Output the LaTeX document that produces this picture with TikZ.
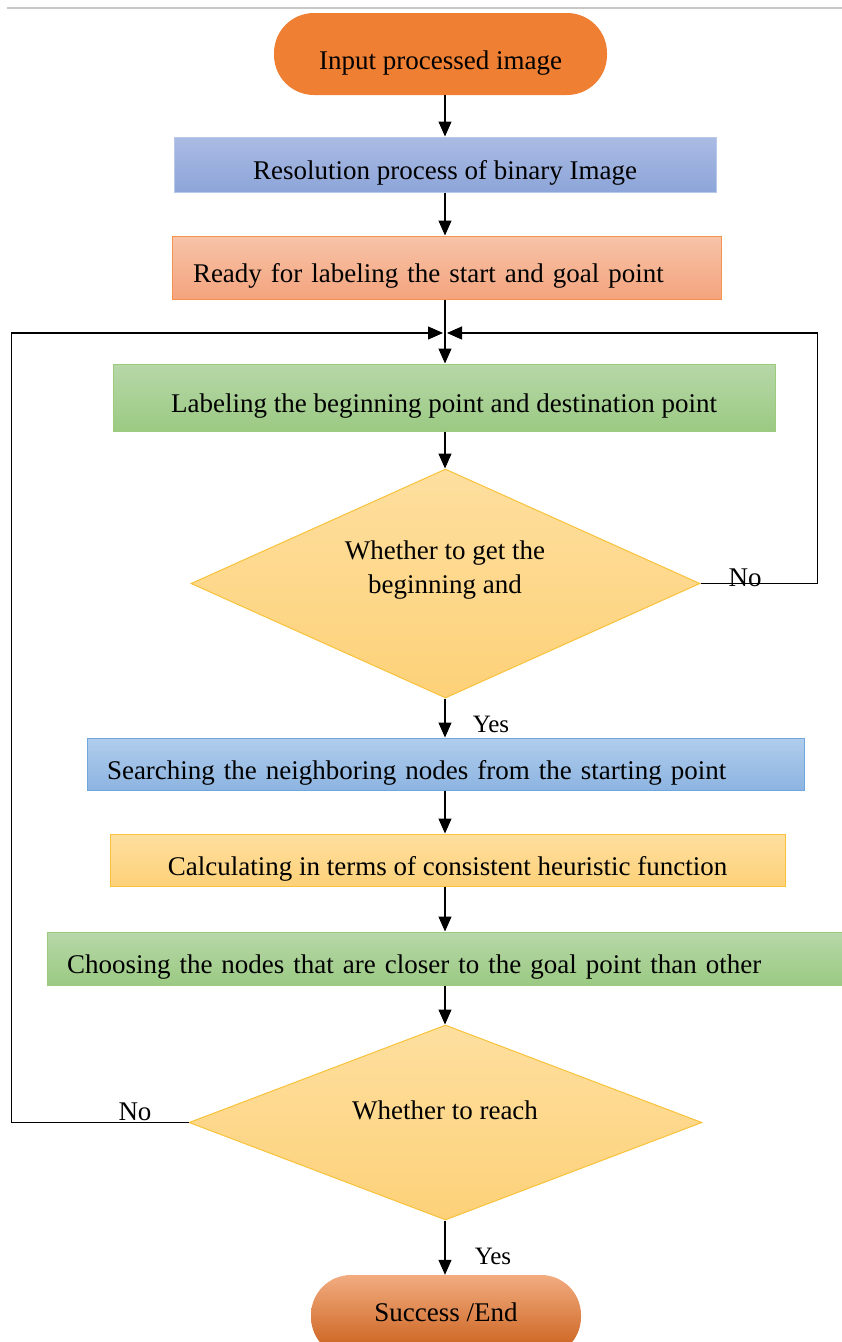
\documentclass[tikz,border=0pt]{standalone}
\usepackage{fontspec}
\setmainfont{Liberation Serif}
\usetikzlibrary{shapes.geometric,arrows.meta}
\definecolor{startor}{HTML}{EE7F33}
\definecolor{resA}{HTML}{ABBBE3}
\definecolor{resB}{HTML}{8DA5D9}
\definecolor{resE}{HTML}{B8C8EA}
\definecolor{rdyA}{HTML}{F7C3A8}
\definecolor{rdyB}{HTML}{F4A47D}
\definecolor{rdyE}{HTML}{F3934F}
\definecolor{grnA}{HTML}{B7D7A8}
\definecolor{grnB}{HTML}{9BCA83}
\definecolor{grnE}{HTML}{9CCB7E}
\definecolor{ylwA}{HTML}{FEDF9F}
\definecolor{ylwB}{HTML}{FDD179}
\definecolor{ylwE}{HTML}{F8C23A}
\definecolor{bluA}{HTML}{B0CDEC}
\definecolor{bluB}{HTML}{8DB4E1}
\definecolor{bluE}{HTML}{6FA6DC}
\definecolor{endA}{HTML}{F2AC80}
\definecolor{endM}{HTML}{E97B35}
\definecolor{endB}{HTML}{C85C16}
\begin{document}
\begin{tikzpicture}[x=1pt,y=-1pt,
  every node/.style={font=\fontsize{27}{34}\selectfont},
  box/.style={rectangle, inner sep=0pt, line width=1pt, text height=30pt, text depth=0pt},
  term/.style={rectangle, rounded corners=40pt, inner sep=0pt, text height=30pt, text depth=0pt},
  dia/.style={diamond, inner sep=0pt, line width=1pt, draw=ylwE, top color=ylwA, bottom color=ylwB},
  arr/.style={-{Triangle[length=15pt,width=13pt]}, line width=1.1pt},
  ln/.style={line width=1.1pt},
  lab/.style={anchor=base, inner sep=0pt}]
\useasboundingbox (0,0) rectangle (842,1342);
\coordinate (ax) at (445,0);
\coordinate (gl) at (7,8);
\coordinate (gr) at (842,8);
\draw[black!22, line width=1.5pt] (gl) -- (gr);

\node[term, fill=startor, minimum width=333pt, minimum height=82pt] (start) at (440.5,54) {Input processed image};
\node[box, draw=resE, top color=resA, bottom color=resB, minimum width=542pt, minimum height=55pt] (res) at (445,164.5) {Resolution process of binary Image};
\node[box, draw=rdyE, top color=rdyA, bottom color=rdyB, minimum width=549pt, minimum height=63pt, inner xsep=21pt, text width=507pt, align=left] (ready) at (446.5,267.5) {Ready for labeling the start and goal point};
\node[box, draw=grnE, top color=grnA, bottom color=grnB, minimum width=662pt, minimum height=67pt] (label) at (444,397.5) {Labeling the beginning point and destination point};
\node[dia, minimum width=509pt, minimum height=229pt] (d1) at (445.5,583.5) {};
\node[align=center, inner sep=0pt] (t1) at (445,570) {Whether to get the\\beginning and};
\node[box, draw=bluE, top color=bluA, bottom color=bluB, minimum width=717pt, minimum height=52pt, inner xsep=20pt, text width=677pt, align=left] (search) at (445.5,764) {Searching the neighboring nodes from the starting point};
\node[box, draw=ylwE, top color=ylwA, bottom color=ylwB, minimum width=675pt, minimum height=52pt] (calc) at (447.5,860) {Calculating in terms of consistent heuristic function};
\node[box, draw=grnE, top color=grnA, bottom color=grnB, minimum width=796pt, minimum height=53pt, inner xsep=20pt, text width=756pt, align=left] (choose) at (445,958.5) {Choosing the nodes that are closer to the goal point than other};
\node[dia, minimum width=513pt, minimum height=195pt] (d2) at (445.5,1122.5) {};
\node[inner sep=0pt] (t2) at (445,1110) {Whether to reach};
\node[term, top color=endA, middle color=endM, bottom color=endB, minimum width=270pt, minimum height=82pt, text height=10pt] (end) at (446,1316) {Success /End};

\coordinate (jl) at (443,333);
\coordinate (jr) at (447,333);

\draw[arr] (start.south -| ax) -- (res.north -| ax);
\draw[arr] (res.south -| ax) -- (ready.north -| ax);
\draw[arr] (ready.south -| ax) -- (label.north -| ax);
\draw[arr] (label.south -| ax) -- (d1.north -| ax);
\draw[arr] (d1.south -| ax) -- (search.north -| ax);
\draw[arr] (search.south -| ax) -- (calc.north -| ax);
\draw[arr] (calc.south -| ax) -- (choose.north -| ax);
\draw[arr] (choose.south -| ax) -- (d2.north -| ax);
\draw[arr] (d2.south -| ax) -- (end.north -| ax);
\draw[arr] (d1.east) -- ++(117,0) |- (jr);
\draw[arr] (d2.west) -- ++(-177,0) |- (jl);

\node[lab] (no1) at (745,586) {No};
\node[lab, font=\fontsize{25}{30}\selectfont] (yes1) at (491,732) {Yes};
\node[lab] (no2) at (135,1120) {No};
\node[lab, font=\fontsize{25}{30}\selectfont] (yes2) at (493,1264) {Yes};
\end{tikzpicture}
\end{document}
